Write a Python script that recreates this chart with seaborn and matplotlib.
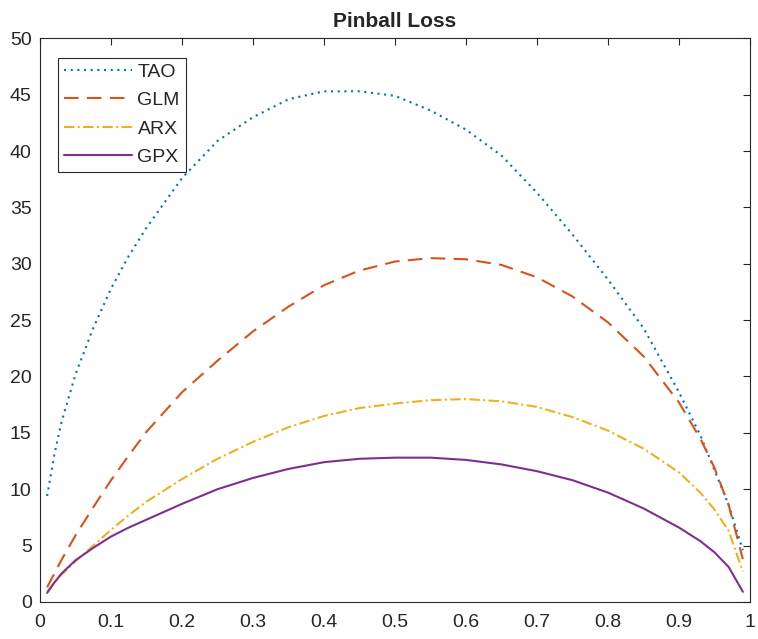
import matplotlib
matplotlib.use("Agg")
import matplotlib.pyplot as plt
import seaborn as sns

# quantile levels and mean pinball loss per model
quantiles = [0.01, 0.02, 0.03, 0.05, 0.075, 0.1, 0.125, 0.15, 0.2, 0.25, 0.3, 0.35,
             0.4, 0.45, 0.5, 0.55, 0.6, 0.65, 0.7, 0.75, 0.8, 0.85, 0.9, 0.93,
             0.95, 0.97, 0.99]
tao = [9.4, 13.0, 15.9, 20.2, 24.3, 27.8, 30.7, 33.2, 37.6, 40.9, 43.0, 44.6,
       45.3, 45.3, 44.9, 43.6, 41.9, 39.6, 36.3, 32.6, 28.6, 24.3, 18.6, 14.8,
       11.7, 8.6, 4.6]
glm = [1.3, 2.5, 3.7, 5.9, 8.4, 10.8, 13.0, 15.1, 18.6, 21.4, 24.0, 26.2,
       28.1, 29.4, 30.2, 30.5, 30.4, 29.9, 28.8, 27.1, 24.8, 21.8, 17.7, 14.5,
       11.9, 8.6, 3.8]
arx = [0.9, 1.7, 2.4, 3.6, 5.0, 6.4, 7.7, 8.9, 10.9, 12.7, 14.2, 15.5,
       16.5, 17.2, 17.6, 17.9, 18.0, 17.8, 17.3, 16.4, 15.2, 13.6, 11.5, 9.7,
       8.2, 6.3, 2.7]
gpx = [0.8, 1.7, 2.5, 3.7, 4.8, 5.8, 6.6, 7.3, 8.7, 10.0, 11.0, 11.8,
       12.4, 12.7, 12.8, 12.8, 12.6, 12.2, 11.6, 10.8, 9.7, 8.3, 6.6, 5.4,
       4.4, 3.1, 0.9]

x_ticks = [0, 0.1, 0.2, 0.3, 0.4, 0.5, 0.6, 0.7, 0.8, 0.9, 1]
x_labels = ["0", "0.1", "0.2", "0.3", "0.4", "0.5", "0.6", "0.7", "0.8", "0.9", "1"]
y_ticks = [0, 5, 10, 15, 20, 25, 30, 35, 40, 45, 50]

sns.set_style("white")
plt.rcParams['font.family'] = ['Liberation Sans', 'DejaVu Sans']

fig = plt.figure(figsize=(7.58, 6.39), dpi=100)
ax = fig.add_axes([0.0528, 0.058, 0.9366, 0.882])

lw = 1.5
sns.lineplot(x=quantiles, y=tao, color="#0072BD", lw=lw, label="TAO",
             linestyle=(0, (1, 2.2)), ax=ax)
sns.lineplot(x=quantiles, y=glm, color="#D95319", lw=lw, label="GLM",
             linestyle=(0, (7, 4)), ax=ax)
sns.lineplot(x=quantiles, y=arx, color="#EDB120", lw=lw, label="ARX",
             linestyle=(0, (5, 1.6, 1, 1.6)), ax=ax)
sns.lineplot(x=quantiles, y=gpx, color="#7E2F8E", lw=lw, label="GPX",
             linestyle="-", ax=ax)

ax.set_xlim(0, 1)
ax.set_ylim(0, 50)
ax.set_xticks(x_ticks)
ax.set_xticklabels(x_labels)
ax.set_yticks(y_ticks)
ax.tick_params(direction="in", length=5, width=0.8, colors="#262626",
               labelsize=14, top=True, right=True)
ax.tick_params(axis="x", labeltop=False, pad=9)
ax.tick_params(axis="y", labelright=False, pad=6)
for s in ax.spines.values():
    s.set_color("#262626")
    s.set_linewidth(0.8)

ax.set_title("Pinball Loss", fontsize=15, fontweight="bold", pad=8)

leg = ax.legend(loc="upper left", bbox_to_anchor=(0.025, 0.966), borderaxespad=0,
                fontsize=14, handlelength=3.5, handletextpad=0.3,
                labelspacing=0.55, borderpad=0.3, fancybox=False, framealpha=1)
leg.get_frame().set_edgecolor("#262626")
leg.get_frame().set_linewidth(0.8)
for t in leg.get_texts():
    t.set_color("#262626")

fig.savefig("out.png", dpi=100)
